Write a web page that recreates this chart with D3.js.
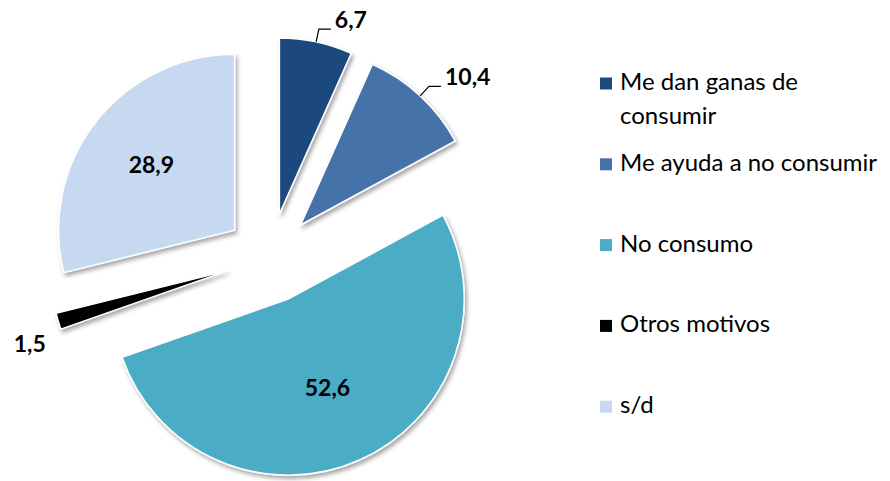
<!DOCTYPE html>
<html>
<head>
<meta charset="utf-8">
<script src="https://cdn.jsdelivr.net/npm/d3@7"></script>
<style>
  body { margin: 0; background: #fff; }
  text { font-family: Lato, "Open Sans", sans-serif; }
</style>
</head>
<body>
<svg id="vis"></svg>
<script>
// chart data
const categories = ["Me dan ganas de consumir", "Me ayuda a no consumir", "No consumo", "Otros motivos", "s/d"];
const values = [6.7, 10.4, 52.6, 1.5, 28.9];
const valueLabels = ["6,7", "10,4", "52,6", "1,5", "28,9"];
const colors = ["#1f497d", "#4572a8", "#4bacc6", "#000000", "#c6d9f1"];
const legendLines = [["Me dan ganas de", "consumir"], ["Me ayuda a no consumir"], ["No consumo"], ["Otros motivos"], ["s/d"]];

let config = {
  'svg': {},
  'pie': {},
  'legend': {}
};

config.svg.width = 890;
config.svg.height = 481;

config.pie.cx = 270;
config.pie.cy = 258;
config.pie.radius = 176;
config.pie.explode = 45;
config.pie.inside = ["No consumo", "s/d"];

config.legend.x = 600;
config.legend.y = 90;
config.legend.step = 80.8;
config.legend.lineHeight = 34;
config.legend.box = 12;

const svg = d3.select("svg#vis")
  .attr('width', config.svg.width)
  .attr('height', config.svg.height);

let defs = svg.append("defs");
let shadow = defs.append("filter")
  .attr("id", "shadow")
  .attr("x", "-20%").attr("y", "-20%")
  .attr("width", "140%").attr("height", "140%");
shadow.append("feDropShadow")
  .attr("dx", 2).attr("dy", 3)
  .attr("stdDeviation", 2)
  .attr("flood-color", "#000")
  .attr("flood-opacity", 0.35);

let color = d3.scaleOrdinal().domain(categories).range(colors);

let pie = d3.pie().sort(null).value(d => d.value);
let data = pie(categories.map((c, i) => ({ name: c, value: values[i], label: valueLabels[i] })));

let arc = d3.arc().innerRadius(0).outerRadius(config.pie.radius);

let plot = svg.append("g")
  .attr("id", "plot")
  .attr("transform", translate(config.pie.cx, config.pie.cy));

function mid(d) { return (d.startAngle + d.endAngle) / 2; }
function offset(d) {
  let a = mid(d);
  return [config.pie.explode * Math.sin(a), -config.pie.explode * Math.cos(a)];
}
function polar(d, r) {
  let a = mid(d), o = offset(d);
  return [o[0] + r * Math.sin(a), o[1] - r * Math.cos(a)];
}

plot.selectAll("path.slice")
  .data(data)
  .enter()
  .append("path")
  .attr("class", "slice")
  .attr("d", arc)
  .attr("transform", d => translate(offset(d)[0], offset(d)[1]))
  .attr("fill", d => color(d.data.name))
  .attr("stroke", "#fff")
  .attr("stroke-width", 1.5)
  .attr("filter", "url(#shadow)");

// value labels
data.forEach(d => {
  let label = plot.append("text")
    .text(d.data.label)
    .attr("font-size", "23px")
    .attr("font-weight", "bold")
    .attr("fill", "#000");

  if (config.pie.inside.includes(d.data.name)) {
    // bigger slices sit their label a bit nearer the tip
    let k = d.value > 50 ? 0.55 : 0.6;
    let p = polar(d, config.pie.radius * k);
    label.attr("x", p[0]).attr("y", p[1] + 8).attr("text-anchor", "middle");
  } else if (d.value < 2) {
    let p = polar(d, config.pie.radius + 14);
    label.attr("x", p[0] + 1).attr("y", p[1] + 27).attr("text-anchor", "end");
  } else {
    let p0 = polar(d, config.pie.radius);
    let p1 = polar(d, config.pie.radius + 13);
    let p2 = [p1[0] + 12, p1[1]];
    plot.append("path")
      .attr("d", d3.line()([p0, p1, p2]))
      .attr("fill", "none")
      .attr("stroke", "#000")
      .attr("stroke-width", 1.2);
    label.attr("x", p2[0] + 4).attr("y", p2[1] - 1).attr("text-anchor", "start");
  }
});

// legend
let legend = svg.append("g")
  .attr("id", "legend")
  .attr("transform", translate(config.legend.x, config.legend.y));

let items = legend.selectAll("g.item")
  .data(categories)
  .enter()
  .append("g")
  .attr("class", "item")
  .attr("transform", (d, i) => translate(0, i * config.legend.step));

items.append("rect")
  .attr("x", 0)
  .attr("y", -12.5)
  .attr("width", config.legend.box)
  .attr("height", config.legend.box)
  .attr("fill", d => color(d));

items.append("text")
  .attr("x", 20)
  .attr("y", 0)
  .attr("font-size", "24px")
  .attr("fill", "#000")
  .selectAll("tspan")
  .data((d, i) => legendLines[i])
  .enter()
  .append("tspan")
  .attr("x", 20)
  .attr("dy", (d, i) => i === 0 ? 0 : config.legend.lineHeight)
  .text(d => d);

function translate(x, y) {
  return 'translate(' + x + ',' + y + ')';
}
</script>
</body>
</html>
